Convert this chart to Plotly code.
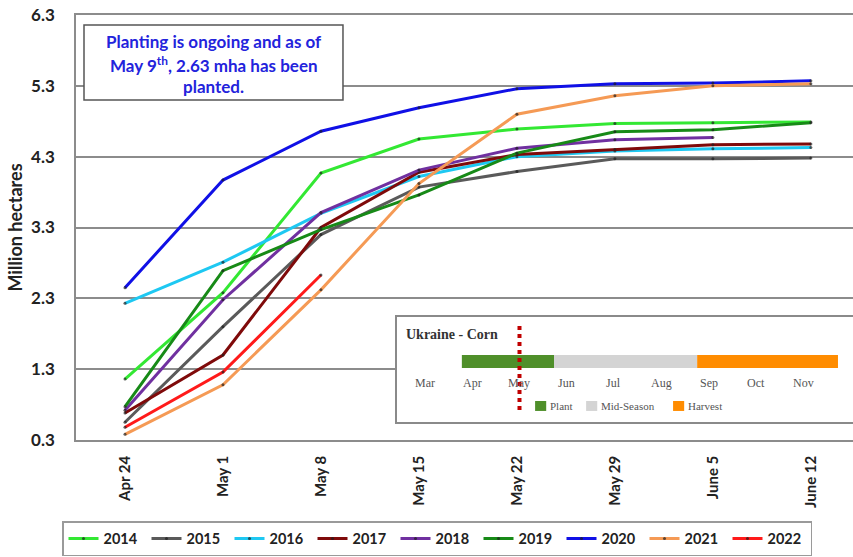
import plotly.graph_objects as go

weeks = ["Apr 24", "May 1", "May 8", "May 15", "May 22", "May 29", "June 5", "June 12"]
years = ["2014", "2015", "2016", "2017", "2018", "2019", "2020", "2021", "2022"]
v2014 = [1.16, 2.38, 4.07, 4.55, 4.69, 4.77, 4.78, 4.79]
v2015 = [0.55, 1.90, 3.20, 3.87, 4.09, 4.27, 4.27, 4.28]
v2016 = [2.23, 2.81, 3.50, 4.02, 4.30, 4.38, 4.41, 4.43]
v2017 = [0.68, 1.50, 3.30, 4.08, 4.33, 4.40, 4.47, 4.48]
v2018 = [0.72, 2.28, 3.51, 4.11, 4.42, 4.54, 4.57, None]
v2019 = [0.77, 2.69, 3.27, 3.76, 4.35, 4.65, 4.68, 4.78]
v2020 = [2.45, 3.97, 4.66, 4.99, 5.26, 5.33, 5.34, 5.37]
v2021 = [0.38, 1.08, 2.42, 3.92, 4.90, 5.16, 5.30, 5.33]
v2022 = [0.48, 1.26, 2.63, None, None, None, None, None]
series = [v2014, v2015, v2016, v2017, v2018, v2019, v2020, v2021, v2022]
colors = ["#33e833", "#5a5a5a", "#1ec8f2", "#7f0a0a", "#7030a0", "#178a17", "#1010e6", "#f59a55", "#ff1a1a"]
y_ticks = [0.3, 1.3, 2.3, 3.3, 4.3, 5.3, 6.3]

# crop calendar inset (month numbers, Mar = 3)
months = ["Mar", "Apr", "May", "Jun", "Jul", "Aug", "Sep", "Oct", "Nov"]
month_num = [3, 4, 5, 6, 7, 8, 9, 10, 11]
phases = ["Plant", "Mid-Season", "Harvest"]
phase_start = [3.78, 5.73, 8.76]
phase_end = [5.73, 8.76, 11.74]
phase_colors = ["#4f8f2a", "#d4d4d4", "#ff8c00"]
current_date = 5.0
note_lines = ["Planting is ongoing and as of", "May 9<sup>th</sup>, 2.63 mha has been", "planted."]

FONT = "Lato"
fig = go.Figure()
xidx = list(range(len(weeks)))
for yr, vals, c in zip(years, series, colors):
    fig.add_trace(go.Scatter(
        x=xidx, y=vals, name=yr, mode="lines+markers",
        line=dict(color=c, width=3),
        marker=dict(size=3, color="rgba(30,30,30,0.7)"),
        connectgaps=False,
    ))

# inset bars
fig.add_trace(go.Bar(
    x=[e - s for s, e in zip(phase_start, phase_end)], base=phase_start,
    y=[0.576] * 3, width=0.124, orientation="h",
    marker=dict(color=phase_colors, line=dict(width=0)),
    xaxis="x2", yaxis="y2", showlegend=False, hoverinfo="skip",
))

fig.update_layout(
    width=853, height=557,
    margin=dict(l=76, r=0, t=15, b=117, autoexpand=False),
    paper_bgcolor="white", plot_bgcolor="white",
    font=dict(family=FONT, color="#222"),
    xaxis=dict(
        domain=[0, 1], range=[-0.5, 7.43], tickmode="array", tickvals=xidx, ticktext=weeks,
        tickangle=-90, tickfont=dict(family=FONT, size=15, color="#222", weight="bold"),
        showgrid=False, zeroline=False, showline=True, mirror=True, linecolor="#8c8c8c", linewidth=1.5,
        ticklabelstandoff=8, automargin=False,
    ),
    yaxis=dict(
        domain=[0, 1], range=[0.3, 6.3], tickmode="array", tickvals=y_ticks,
        ticktext=[f"{v:.1f}" for v in y_ticks],
        tickfont=dict(family=FONT, size=17, color="#222", weight="bold"),
        showgrid=True, gridcolor="#8c8c8c", gridwidth=1.5, zeroline=False,
        showline=True, mirror=True, linecolor="#8c8c8c", linewidth=1.5,
        ticklabelstandoff=16, automargin=False,
        title=dict(text="Million hectares", font=dict(family=FONT, size=18, color="#222", weight="bold"), standoff=4),
    ),
    xaxis2=dict(domain=[0.4131, 1.0], range=[2.407, 12.058], anchor="y2",
                showgrid=False, zeroline=False, showticklabels=False,
                showline=True, mirror=True, linecolor="#8a8a8a", linewidth=2),
    yaxis2=dict(domain=[0.0424, 0.2894], range=[0, 1], anchor="x2",
                showgrid=False, zeroline=False, showticklabels=False,
                showline=True, mirror=True, linecolor="#8a8a8a", linewidth=2),
    legend=dict(
        orientation="h", xref="container", yref="container",
        x=62 / 853, y=1 - 521 / 557, xanchor="left", yanchor="top",
        bordercolor="#9a9a9a", borderwidth=1.5, bgcolor="white",
        font=dict(family=FONT, size=14.5, color="#222", weight="bold"),
        entrywidth=38, itemwidth=30, tracegroupgap=0,
    ),
    showlegend=True,
)

# note box
fig.add_shape(type="rect", xref="paper", yref="paper", x0=0.0103, x1=0.3436, y0=0.80, y1=0.9765,
              line=dict(color="#555", width=1.5), fillcolor="white", layer="above")
for txt, yy in zip(note_lines, [0.9365, 0.8847, 0.8306]):
    fig.add_annotation(text=txt, xref="paper", yref="paper", x=0.1776, y=yy, showarrow=False,
                       xanchor="center", yanchor="middle",
                       font=dict(family=FONT, size=17, color="#2323dc", weight="bold"))

# inset texts
SERIF = "Liberation Serif"
fig.add_annotation(text="<b>Ukraine - Corn</b>", xref="x2", yref="y2", x=2.56, y=0.829,
                   xanchor="left", yanchor="middle", showarrow=False,
                   font=dict(family=SERIF, size=14, color="#333"))
for m, mn in zip(months, month_num):
    fig.add_annotation(text=m, xref="x2", yref="y2", x=mn, y=0.371, showarrow=False,
                       xanchor="center", yanchor="middle",
                       font=dict(family=SERIF, size=12, color="#555"))
leg_x = [5.33, 6.41, 8.25]
for name, c, lx in zip(phases, phase_colors, leg_x):
    fig.add_shape(type="rect", xref="x2", yref="y2", x0=lx, x1=lx + 0.235, y0=0.105, y1=0.2,
                  line=dict(width=0), fillcolor=c, layer="above")
    fig.add_annotation(text=name, xref="x2", yref="y2", x=lx + 0.28, y=0.152, showarrow=False,
                       xanchor="left", yanchor="middle",
                       font=dict(family=SERIF, size=11, color="#555"))
fig.add_shape(type="line", xref="x2", yref="y2", x0=current_date, x1=current_date, y0=0.114, y1=0.943,
              line=dict(color="#c00000", width=4, dash="dot"), layer="above")

fig.write_html("out.html", config={"displayModeBar": False},
               post_script="document.body.style.margin='0';document.body.style.overflow='hidden';")
